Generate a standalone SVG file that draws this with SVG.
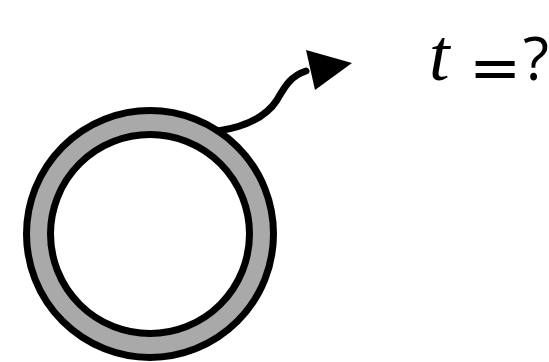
<svg xmlns="http://www.w3.org/2000/svg" width="549" height="362" viewBox="0 0 549 362">
<style>
.ring{stroke:#000;stroke-width:7}
.conn{fill:none;stroke:#000;stroke-width:7;stroke-linecap:round}
</style>
<rect width="549" height="362" fill="#fff"/>
<g id="ring">
<circle class="ring" cx="150" cy="234" r="123.5" fill="#a9a9a9"/>
<circle class="ring" cx="150" cy="234" r="99.5" fill="#fff"/>
</g>
<g id="connectors">
<path class="conn" d="M218,131 C250,126 268,114 277,100 C284,88 290,76 306,71"/>
<polygon points="306,50 352,63 315,90" fill="#000"/>
</g>
<g id="label">
<text x="429" y="80" font-family="'Liberation Serif',serif" font-style="italic" font-size="74">t</text>
<text transform="translate(469,88) scale(1.04,1)" x="0" y="0" font-family="'DejaVu Sans',sans-serif" font-size="60">=</text>
<text x="523" y="80" font-family="'Open Sans',sans-serif" font-size="60">?</text>
</g>
</svg>
